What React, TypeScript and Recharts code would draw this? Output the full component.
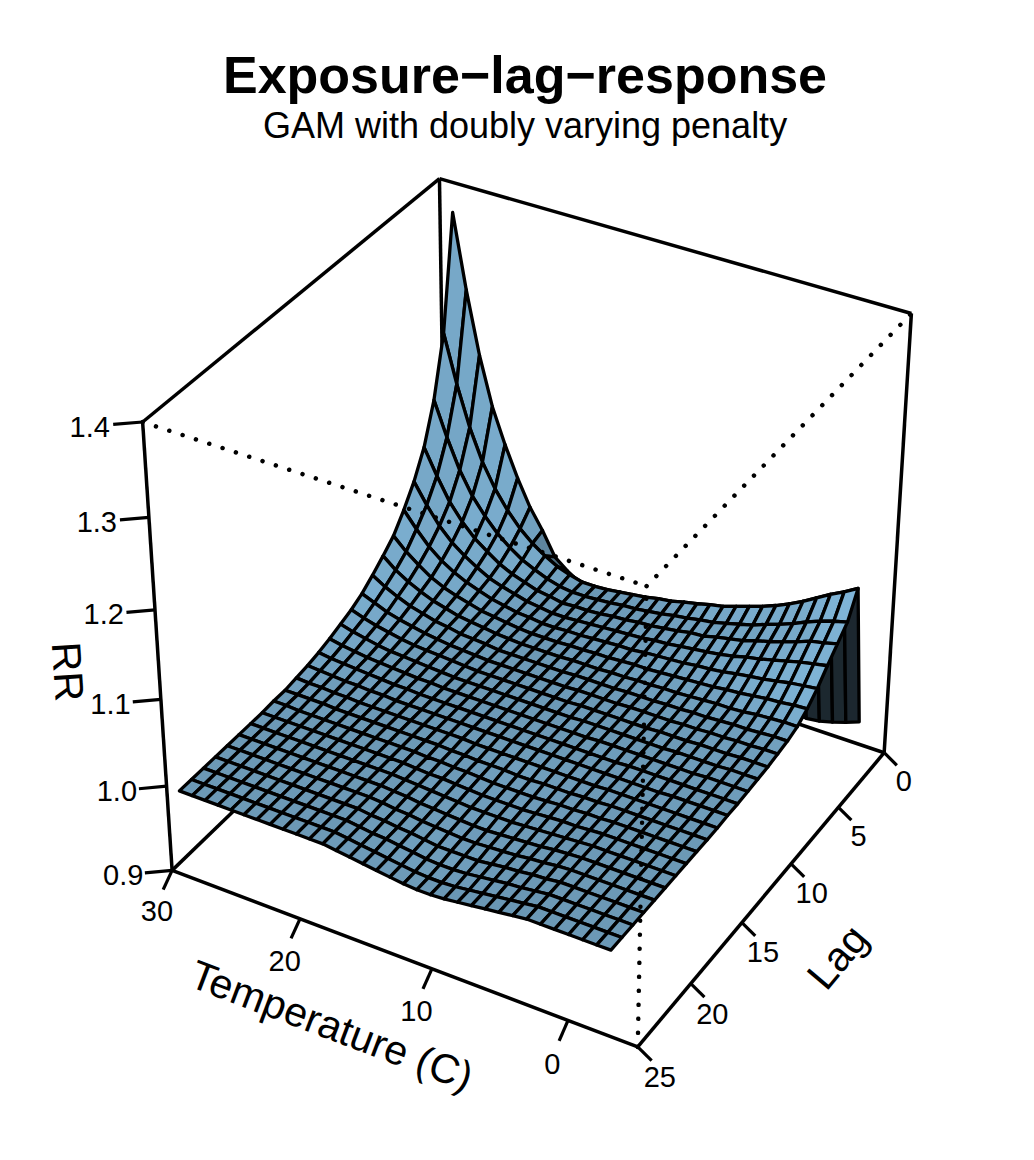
import React from 'react';
import { ScatterChart, Scatter, XAxis, YAxis } from 'recharts';

// Temperature grid (C) and lag grid (days) of the predicted surface
const temperatures = [-3, -2, -1, 0, 1, 2, 3, 4, 5, 6, 7, 8, 9, 10, 11, 12, 13, 14, 15, 16, 17, 18, 19, 20, 21, 22, 23, 24, 25, 26, 27, 28, 29];
const lags = [0, 1, 2, 3, 4, 5, 6, 7, 8, 9, 10, 11, 12, 13, 14, 15, 16, 17, 18, 19, 20, 21, 22, 23, 24, 25];

// RR, one row per temperature, one column per lag
const rrSurface: number[][] = [
  [0.927, 1.098, 1.071, 1.058, 1.045, 1.031, 1.020, 1.012, 1.008, 1.006, 1.004, 1.003, 1.002,
    1.001, 1.001, 1, 1, 1, 1, 1, 1, 1, 1, 1, 1, 1], // -3
  [0.921, 1.089, 1.067, 1.054, 1.042, 1.029, 1.019, 1.012, 1.008, 1.006, 1.004, 1.003, 1.002,
    1.001, 1.001, 1, 1, 1, 1, 1, 1, 1, 1, 1, 1, 1], // -2
  [0.916, 1.081, 1.062, 1.051, 1.039, 1.027, 1.017, 1.011, 1.007, 1.005, 1.004, 1.003, 1.002,
    1.001, 1.001, 1, 1, 1, 1, 1, 1, 1, 1, 1, 1, 1], // -1
  [0.912, 1.072, 1.056, 1.045, 1.035, 1.024, 1.016, 1.010, 1.006, 1.005, 1.003, 1.002, 1.002,
    1.001, 1.001, 1, 1, 1, 1, 1, 1, 1, 1, 1, 1, 1], // 0
  [0.910, 1.063, 1.049, 1.040, 1.031, 1.021, 1.014, 1.008, 1.006, 1.004, 1.003, 1.002, 1.001,
    1.001, 1.001, 1, 1, 1, 1, 1, 1, 1, 1, 1, 1, 1], // 1
  [0.912, 1.055, 1.043, 1.035, 1.027, 1.019, 1.012, 1.007, 1.005, 1.004, 1.003, 1.002, 1.001,
    1.001, 1, 1, 1, 1, 1, 1, 1, 1, 1, 1, 1, 1], // 2
  [0.916, 1.048, 1.038, 1.031, 1.024, 1.017, 1.011, 1.007, 1.004, 1.003, 1.002, 1.002, 1.001,
    1.001, 1, 1, 1, 1, 1, 1, 1, 1, 1, 1, 1, 1], // 3
  [0.921, 1.042, 1.032, 1.026, 1.020, 1.014, 1.009, 1.006, 1.004, 1.003, 1.002, 1.001, 1.001,
    1.001, 1, 1, 1, 0.999, 0.999, 0.999, 0.999, 0.999, 0.998, 0.998, 0.998, 0.998], // 4
  [0.927, 1.037, 1.028, 1.023, 1.017, 1.012, 1.008, 1.005, 1.003, 1.002, 1.002, 1.001, 1.001,
    1.001, 1, 1, 0.999, 0.999, 0.998, 0.998, 0.998, 0.997, 0.997, 0.996, 0.996, 0.996], // 5
  [0.933, 1.032, 1.024, 1.020, 1.015, 1.011, 1.007, 1.004, 1.003, 1.002, 1.001, 1.001, 1.001,
    1, 1, 0.999, 0.999, 0.998, 0.998, 0.997, 0.996, 0.996, 0.995, 0.995, 0.994, 0.994], // 6
  [0.939, 1.027, 1.020, 1.016, 1.013, 1.009, 1.006, 1.004, 1.002, 1.002, 1.001, 1.001, 1.001,
    1, 1, 0.999, 0.998, 0.998, 0.997, 0.996, 0.995, 0.994, 0.994, 0.993, 0.992, 0.992], // 7
  [0.945, 1.024, 1.018, 1.015, 1.011, 1.008, 1.005, 1.003, 1.002, 1.002, 1.001, 1.001, 1.001,
    1, 1, 0.999, 0.998, 0.997, 0.996, 0.995, 0.994, 0.993, 0.992, 0.991, 0.990, 0.990], // 8
  [0.951, 1.020, 1.015, 1.012, 1.009, 1.007, 1.004, 1.003, 1.002, 1.001, 1.001, 1.001, 1,
    1, 1, 0.999, 0.998, 0.996, 0.995, 0.994, 0.993, 0.992, 0.990, 0.989, 0.988, 0.988], // 9
  [0.956, 1.017, 1.013, 1.010, 1.008, 1.006, 1.004, 1.002, 1.001, 1.001, 1.001, 1.001, 1,
    1, 1, 0.999, 0.997, 0.996, 0.995, 0.994, 0.992, 0.991, 0.990, 0.988, 0.987, 0.987], // 10
  [0.961, 1.013, 1.010, 1.008, 1.006, 1.004, 1.003, 1.002, 1.001, 1.001, 1.001, 1, 1,
    1, 1, 0.999, 0.997, 0.996, 0.995, 0.994, 0.992, 0.991, 0.990, 0.988, 0.987, 0.987], // 11
  [0.965, 1.011, 1.008, 1.007, 1.005, 1.004, 1.002, 1.001, 1.001, 1.001, 1, 1, 1,
    1, 1, 0.999, 0.998, 0.996, 0.995, 0.994, 0.993, 0.992, 0.990, 0.989, 0.988, 0.988], // 12
  [0.968, 1.008, 1.006, 1.005, 1.004, 1.003, 1.002, 1.001, 1.001, 1, 1, 1, 1,
    1, 1, 0.999, 0.998, 0.997, 0.996, 0.995, 0.994, 0.993, 0.992, 0.991, 0.990, 0.990], // 13
  [0.970, 1.006, 1.005, 1.004, 1.003, 1.002, 1.001, 1.001, 1, 1, 1, 1, 1,
    1, 1, 0.999, 0.998, 0.998, 0.997, 0.996, 0.995, 0.994, 0.994, 0.993, 0.992, 0.992], // 14
  [0.972, 1.004, 1.003, 1.002, 1.002, 1.001, 1.001, 1, 1, 1, 1, 1, 1,
    1, 1, 0.999, 0.999, 0.998, 0.998, 0.997, 0.996, 0.996, 0.995, 0.995, 0.994, 0.994], // 15
  [0.974, 1.002, 1.002, 1.001, 1.001, 1.001, 1, 1, 1, 1, 1, 1, 1,
    1, 1, 1, 0.999, 0.999, 0.998, 0.998, 0.998, 0.997, 0.997, 0.996, 0.996, 0.996], // 16
  [0.976, 1.001, 1.001, 1.001, 1, 1, 1, 1, 1, 1, 1, 1, 1,
    1, 1, 1, 1, 0.999, 0.999, 0.999, 0.999, 0.999, 0.998, 0.998, 0.998, 0.998], // 17
  [0.978, 1.001, 1.001, 1, 1, 1, 1, 1, 1, 1, 1, 1, 1,
    1, 1, 1, 1, 1, 1, 1, 1, 1, 1, 1, 1, 1], // 18
  [0.984, 1.005, 1.003, 1.003, 1.002, 1.002, 1.001, 1.001, 1, 1, 1, 1, 1,
    1, 1, 1, 1, 1, 1, 1, 1, 1, 1, 1, 1, 1], // 19
  [0.993, 1.010, 1.007, 1.005, 1.004, 1.003, 1.003, 1.002, 1.002, 1.001, 1.001, 1, 1,
    1, 1, 1, 1, 1, 1, 1, 1, 1, 1, 1, 1, 1], // 20
  [1.005, 1.018, 1.013, 1.010, 1.008, 1.006, 1.005, 1.004, 1.003, 1.002, 1.002, 1.001, 1.001,
    1, 1, 1, 1, 1, 1, 1, 1, 1, 1, 1, 1, 1], // 21
  [1.032, 1.028, 1.020, 1.015, 1.012, 1.009, 1.007, 1.006, 1.004, 1.003, 1.003, 1.002, 1.001,
    1.001, 1, 1, 1, 1, 1, 1, 1, 1, 1, 1, 1, 1], // 22
  [1.055, 1.041, 1.030, 1.022, 1.017, 1.014, 1.011, 1.008, 1.007, 1.005, 1.004, 1.003, 1.002,
    1.001, 1.001, 1, 1, 1, 1, 1, 1, 1, 1, 1, 1, 1], // 23
  [1.085, 1.058, 1.042, 1.032, 1.025, 1.019, 1.015, 1.012, 1.009, 1.007, 1.005, 1.004, 1.003,
    1.002, 1.001, 1, 1, 1, 1, 1, 1, 1, 1, 1, 1, 1], // 24
  [1.120, 1.079, 1.058, 1.043, 1.034, 1.026, 1.020, 1.016, 1.013, 1.010, 1.007, 1.005, 1.004,
    1.003, 1.002, 1.001, 1, 1, 1, 1, 1, 1, 1, 1, 1, 1], // 25
  [1.160, 1.106, 1.077, 1.058, 1.045, 1.035, 1.027, 1.022, 1.017, 1.013, 1.010, 1.007, 1.005,
    1.004, 1.002, 1.001, 1.001, 1, 1, 1, 1, 1, 1, 1, 1, 1], // 26
  [1.215, 1.142, 1.103, 1.077, 1.060, 1.047, 1.037, 1.029, 1.023, 1.017, 1.013, 1.010, 1.007,
    1.005, 1.003, 1.002, 1.001, 1, 1, 1, 1, 1, 1, 1, 1, 1], // 27
  [1.285, 1.188, 1.137, 1.103, 1.080, 1.063, 1.048, 1.038, 1.030, 1.023, 1.017, 1.013, 1.009,
    1.006, 1.004, 1.002, 1.001, 1.001, 1, 1, 1, 1, 1, 1, 1, 1], // 28
  [1.367, 1.242, 1.176, 1.132, 1.103, 1.081, 1.062, 1.050, 1.039, 1.029, 1.022, 1.017, 1.012,
    1.008, 1.005, 1.003, 1.001, 1.001, 1, 1, 1, 1, 1, 1, 1, 1], // 29
];

const rrTicks = [0.9, 1.0, 1.1, 1.2, 1.3, 1.4];
const temperatureTicks = [0, 10, 20, 30];
const lagTicks = [0, 5, 10, 15, 20, 25];

const temperatureLimits = [-5, 30];
const lagLimits = [0, 25];
const rrLimits = [0.9, 1.4];

// ---- layout / view ----
const WIDTH = 1034;
const HEIGHT = 1160;
const FONT = '"Liberation Sans", Arial, Helvetica, sans-serif';
const THETA = 210;
const PHI = 35;
const EYE = 15;
const PX = 270.5; // pixels per projected unit
const CENTER_X = 535;
const CENTER_Y = 597;
const LIGHT = [-0.12, 0.67, 0.5];
const BASE_RGB = [144, 204, 243];

const xDomain = [-CENTER_X / PX, (WIDTH - CENTER_X) / PX];
const yDomain = [(CENTER_Y - HEIGHT) / PX, CENTER_Y / PX];

const rad = (d: number) => (d * Math.PI) / 180;
const cT = Math.cos(rad(THETA));
const sT = Math.sin(rad(THETA));
const cP = Math.cos(rad(PHI));
const sP = Math.sin(rad(PHI));

type Pt = { sx: number; sy: number };

const toUnit = (t: number, l: number, r: number) => [
  (2 * (t - temperatureLimits[0])) / (temperatureLimits[1] - temperatureLimits[0]) - 1,
  (2 * (l - lagLimits[0])) / (lagLimits[1] - lagLimits[0]) - 1,
  (2 * (r - rrLimits[0])) / (rrLimits[1] - rrLimits[0]) - 1,
];

const project = (t: number, l: number, r: number): Pt => {
  const [x, y, z] = toUnit(t, l, r);
  const X = x * cT + y * sT;
  const h = x * sT - y * cT;
  const Y = z * cP - h * sP;
  const Z = z * sP + h * cP;
  const w = (EYE - Z) / EYE;
  return { sx: X / w, sy: Y / w };
};

// ---- surface facets ----
const surfaceCells = (() => {
  const out: any[] = [];
  for (let i = 0; i < temperatures.length - 1; i++) {
    for (let j = 0; j < lags.length - 1; j++) {
      const idx = [[i, j], [i + 1, j], [i + 1, j + 1], [i, j + 1]];
      const unit = idx.map(([a, b]) => toUnit(temperatures[a], lags[b], rrSurface[a][b]));
      const corners = idx.map(([a, b]) => project(temperatures[a], lags[b], rrSurface[a][b]));
      const d1 = [0, 1, 2].map((k) => unit[2][k] - unit[0][k]);
      const d2 = [0, 1, 2].map((k) => unit[3][k] - unit[1][k]);
      const n = [
        d1[1] * d2[2] - d1[2] * d2[1],
        d1[2] * d2[0] - d1[0] * d2[2],
        d1[0] * d2[1] - d1[1] * d2[0],
      ];
      const len = Math.hypot(n[0], n[1], n[2]) || 1;
      const dot = (n[0] * LIGHT[0] + n[1] * LIGHT[1] + n[2] * LIGHT[2]) / len;
      const shade = Math.max(0, Math.min(1, (1 + dot) / 2));
      const [r, g, b] = BASE_RGB.map((c) => Math.round(c * shade));
      const xc = unit.reduce((s, u) => s + u[0], 0) / 4;
      const yc = unit.reduce((s, u) => s + u[1], 0) / 4;
      out.push({
        sx: corners.reduce((s, c) => s + c.sx, 0) / 4,
        sy: corners.reduce((s, c) => s + c.sy, 0) / 4,
        corners,
        fill: `rgb(${r},${g},${b})`,
        depth: xc * sT - yc * cT,
      });
    }
  }
  return out.sort((a, b) => a.depth - b.depth);
})();

// ---- box ----
const [T0, T1] = temperatureLimits;
const [L0, L1] = lagLimits;
const [R0, R1] = rrLimits;
const solidEdges = [
  [[T1, L1, R0], [T1, L1, R1]],
  [[T0, L0, R0], [T0, L0, R1]],
  [[T1, L0, R0], [T1, L0, R1]],
  [[T1, L1, R1], [T1, L0, R1]],
  [[T1, L0, R1], [T0, L0, R1]],
  [[T1, L1, R0], [T0, L1, R0]],
  [[T0, L1, R0], [T0, L0, R0]],
  [[T1, L1, R0], [T1, L0, R0]],
  [[T1, L0, R0], [T0, L0, R0]],
].map((e) => e.map(([t, l, r]) => project(t, l, r)));
const dottedEdges = [
  [[T1, L1, R1], [T0, L1, R1]],
  [[T0, L1, R1], [T0, L0, R1]],
  [[T0, L1, R0], [T0, L1, R1]],
].map((e) => e.map(([t, l, r]) => project(t, l, r)));

// ---- ticks and labels ----
const tickMarks = [
  ...rrTicks.map((v) => ({ ...project(T1, L1, v), end: project(T1 + 1.4, L1 + 0.8, v) })),
  ...temperatureTicks.map((v) => ({ ...project(v, L1, R0), end: project(v, L1 + 0.8, R0 - 0.012) })),
  ...lagTicks.map((v) => ({ ...project(T0, v, R0), end: project(T0 - 1.0, v, R0 - 0.01) })),
];

const angleOf = (p: Pt, q: Pt) => {
  let a = (Math.atan2(-(q.sy - p.sy) * PX, (q.sx - p.sx) * PX) * 180) / Math.PI;
  if (a > 90) a -= 180;
  if (a <= -90) a += 180;
  return a;
};

const tickLabels = [
  ...rrTicks.map((v) => ({ ...project(T1 + 2.5, L1 + 1.45, v), text: v.toFixed(1), size: 29, angle: 0 })),
  ...temperatureTicks.map((v) => ({ ...project(v, L1 + 1.4, R0 - 0.03), text: String(v), size: 29, angle: 0 })),
  ...lagTicks.map((v) => ({ ...project(T0 - 1.6, v, R0 - 0.026), text: String(v), size: 29, angle: 0 })),
];

const axisTitles = [
  { ...project(33.9, 28.1, 1.15), text: 'RR', size: 41, angle: angleOf(project(T1, L1, R0), project(T1, L1, R1)) },
  { ...project(12.6, 30.6, R0), text: 'Temperature (C)', size: 41, angle: angleOf(project(T1, L1, R0), project(T0, L1, R0)) },
  { ...project(-11.9, 15.0, R0), text: 'Lag', size: 41, angle: angleOf(project(T0, L1, R0), project(T0, L0, R0)) },
];

// ---- shapes ----
const renderNothing = () => <g />;

const renderCell = (props: any) => {
  const { cx, cy, payload } = props;
  const points = payload.corners
    .map((c: Pt) => `${(cx + (c.sx - payload.sx) * PX).toFixed(2)},${(cy - (c.sy - payload.sy) * PX).toFixed(2)}`)
    .join(' ');
  return <polygon points={points} fill={payload.fill} stroke="#000" strokeWidth={3.3} strokeLinejoin="round" />;
};

const renderTick = (props: any) => {
  const { cx, cy, payload } = props;
  return (
    <line
      x1={cx}
      y1={cy}
      x2={cx + (payload.end.sx - payload.sx) * PX}
      y2={cy - (payload.end.sy - payload.sy) * PX}
      stroke="#000"
      strokeWidth={3.2}
    />
  );
};

const renderLabel = (props: any) => {
  const { cx, cy, payload } = props;
  return (
    <text
      x={cx}
      y={cy}
      textAnchor="middle"
      dominantBaseline="central"
      fontSize={payload.size}
      fontFamily={FONT}
      fill="#000"
      transform={payload.angle ? `rotate(${payload.angle.toFixed(2)} ${cx} ${cy})` : undefined}
    >
      {payload.text}
    </text>
  );
};

export default function App() {
  return (
    <div style={{ position: 'relative', width: WIDTH, height: HEIGHT, fontFamily: FONT }}>
      <style>{'body{margin:0;}'}</style>
      <ScatterChart width={WIDTH} height={HEIGHT} margin={{ top: 0, right: 0, bottom: 0, left: 0 }}>
        <XAxis type="number" dataKey="sx" domain={xDomain} hide allowDataOverflow height={0} />
        <YAxis type="number" dataKey="sy" domain={yDomain} hide allowDataOverflow width={0} />
        {solidEdges.map((e, k) => (
          <Scatter
            key={`edge-${k}`}
            data={e}
            shape={renderNothing}
            line={{ stroke: '#000', strokeWidth: 3.5 }}
            lineType="joint"
            isAnimationActive={false}
          />
        ))}
        <Scatter data={surfaceCells} shape={renderCell} isAnimationActive={false} />
        {dottedEdges.map((e, k) => (
          <Scatter
            key={`dot-${k}`}
            data={e}
            shape={renderNothing}
            line={{ stroke: '#000', strokeWidth: 4.5, strokeDasharray: '0.01 14', strokeLinecap: 'round' }}
            lineType="joint"
            isAnimationActive={false}
          />
        ))}
        <Scatter data={tickMarks} shape={renderTick} isAnimationActive={false} />
        <Scatter data={tickLabels} shape={renderLabel} isAnimationActive={false} />
        <Scatter data={axisTitles} shape={renderLabel} isAnimationActive={false} />
      </ScatterChart>
      <div
        style={{
          position: 'absolute',
          top: 49,
          left: 0,
          width: 1050,
          textAlign: 'center',
          fontSize: 52,
          lineHeight: '52px',
          fontWeight: 'bold',
        }}
      >
        Exposure−lag−response
      </div>
      <div
        style={{
          position: 'absolute',
          top: 108,
          left: 0,
          width: 1050,
          textAlign: 'center',
          fontSize: 36,
          lineHeight: '36px',
        }}
      >
        GAM with doubly varying penalty
      </div>
    </div>
  );
}
